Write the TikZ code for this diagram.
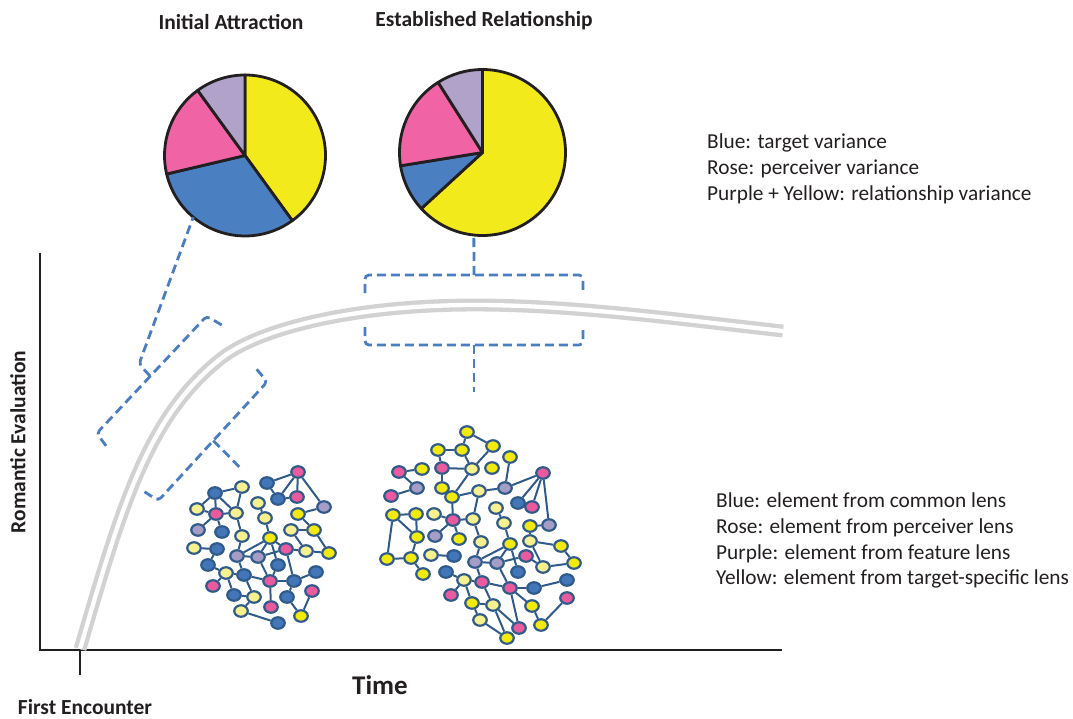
\documentclass[tikz,border=0pt]{standalone}
\usepackage{fontspec}
\setmainfont{Carlito}
\usepackage{tikz}
\usetikzlibrary{shapes.geometric, positioning, backgrounds, calc}
\definecolor{pieyellow}{HTML}{F2EA1A}
\definecolor{pieblue}{HTML}{4A80C1}
\definecolor{pierose}{HTML}{F064A6}
\definecolor{piepurple}{HTML}{B1A2CA}
\definecolor{dashblue}{HTML}{4A7EC0}
\definecolor{curvegray}{HTML}{D2D2D2}
\definecolor{dotline}{HTML}{2F5A8A}
\definecolor{dotB}{HTML}{4276B8}
\definecolor{dotR}{HTML}{EA5A9E}
\definecolor{dotP}{HTML}{A69DC6}
\definecolor{dotY}{HTML}{F2EA0C}
\definecolor{dotL}{HTML}{F6F08E}
\definecolor{inkblack}{HTML}{231F20}

\begin{document}
\begin{tikzpicture}[
      x=1pt, y=-1pt,
      slice/.style={
        draw=inkblack,
        line width=2.8pt,
        line join=round,
      },
      pie/.style={
        circle,
        inner sep=0pt,
        outer sep=0pt,
      },
      brk/.style={
        draw=dashblue,
        line width=2.8pt,
        dash pattern=on 9pt off 5pt,
        rounded corners=4pt,
      },
      dot/.style={
        ellipse,
        draw=dotline,
        line width=2.2pt,
        minimum width=13.5pt,
        minimum height=11.5pt,
        inner sep=0pt,
      },
      link/.style={
        draw=dotline,
        line width=2pt,
      },
      axis/.style={
        draw=inkblack,
        line width=2.8pt,
      },
      title/.style={
        font=\bfseries\fontsize{21.5}{25}\selectfont,
        text=inkblack,
      },
      legend/.style={
        font=\fontsize{21.3}{25.6}\selectfont,
        align=left,
        inner sep=0pt,
        text=inkblack,
      },
      axislabel/.style={
        font=\bfseries\fontsize{21.5}{25}\selectfont,
        text=inkblack,
        inner sep=0pt,
      },
      ]
      \useasboundingbox (0,0) rectangle (1073,719);

      % axes
      \draw[axis] (40,253) |- (782,650);
      \draw[axis] (80,650) -- (80,675);
      \node[axislabel, rotate=90] (ylab) at (18,442) {Romantic Evaluation};
      \node[axislabel] (first) at (85,707) {First Encounter};
      \node[font=\bfseries\fontsize{27}{30}\selectfont, text=inkblack] (time) at (380,685) {Time};

      % evaluation curve
      \draw[curvegray, line width=4.3pt, double=white, double distance=4.3pt]
        (80,649) .. controls (122,505) and (148,415) .. (223,357)
        .. controls (262,328) and (355,305) .. (475,305)
        .. controls (575,305) and (683,320) .. (783,331);

      % pie charts
      \node[title] (titleA) at (231,22) {Initial Attraction};
      \node[title] (titleB) at (484,21) {Established Relationship};
      \node[pie, minimum size=161pt] (pieA) at (245,155.5) {};
      \node[pie, minimum size=166pt] (pieB) at (482.5,152.5) {};
      \filldraw[slice, fill=pieyellow] (pieA.center) -- ++(-90:80.5) arc[start angle=-90, end angle=54, radius=80.5] -- cycle;
      \filldraw[slice, fill=pieblue] (pieA.center) -- ++(54:80.5) arc[start angle=54, end angle=166.7, radius=80.5] -- cycle;
      \filldraw[slice, fill=pierose] (pieA.center) -- ++(166.7:80.5) arc[start angle=166.7, end angle=234, radius=80.5] -- cycle;
      \filldraw[slice, fill=piepurple] (pieA.center) -- ++(234:80.5) arc[start angle=234, end angle=270, radius=80.5] -- cycle;
      \filldraw[slice, fill=pieyellow] (pieB.center) -- ++(-90:83) arc[start angle=-90, end angle=137.5, radius=83] -- cycle;
      \filldraw[slice, fill=pieblue] (pieB.center) -- ++(137.5:83) arc[start angle=137.5, end angle=170.8, radius=83] -- cycle;
      \filldraw[slice, fill=pierose] (pieB.center) -- ++(170.8:83) arc[start angle=170.8, end angle=237.7, radius=83] -- cycle;
      \filldraw[slice, fill=piepurple] (pieB.center) -- ++(237.7:83) arc[start angle=237.7, end angle=270, radius=83] -- cycle;

      % legends
      \node[legend, anchor=north west] (legPie) at (707,134) {Blue: target variance\\Rose: perceiver variance\\Purple + Yellow: relationship variance};
      \node[legend, anchor=north west] (legNet) at (716,493) {Blue: element from common lens\\Rose: element from perceiver lens\\Purple: element from feature lens\\Yellow: element from target-specific lens};

      % brackets
      \coordinate (tipA) at (150,376);
      \coordinate (tipB) at (213.3,440.6);
      \coordinate (endB) at (240.7,468.3);
      \coordinate (tipC) at (474,275);
      \coordinate (tipD) at (474,345);
      \coordinate (endD) at (474,392);
      \draw[brk] (221.7,325) -- (206.7,316) -- (96.7,433.3) -- (106.7,446.7);
      \draw[brk] (tipA) -- (139,364) -- (pieA.230);
      \draw[brk] (256.7,369.3) -- (267.3,381.7) -- (158.3,500.7) -- (143.3,491);
      \draw[brk] (tipB) -- (endB);
      \draw[brk] (365,293) -- (365,275) -- (583,275) -- (583,293);
      \draw[brk] (tipC) -- (pieB.264);
      \draw[brk] (365,327) -- (365,345) -- (583,345) -- (583,327);
      \draw[brk] (tipD) -- (endD);

      % network at first encounter
      \foreach \n/\x/\y/\c in {1/298/472/dotR, 2/267/483/dotB, 3/242/487/dotL, 4/215/493/dotB,
          5/278/499/dotB, 6/297/497/dotR, 7/258/503/dotL, 8/324/507/dotP, 9/197/509/dotL,
          10/216/514/dotR, 11/236/513/dotL, 12/298/514/dotY, 13/265/518/dotL, 14/198/530/dotP,
          15/222/532/dotB, 16/242/536/dotL, 17/291/530/dotL, 18/314/530/dotY, 19/270/538/dotY,
          20/194/548/dotL, 21/217/549/dotB, 22/286/549/dotR, 23/306/551/dotL, 24/329/553/dotY,
          25/237/556/dotP, 26/258/557/dotP, 27/208/565/dotB, 28/278/565/dotB, 29/316/572/dotB,
          30/226/573/dotL, 31/244/575/dotB, 32/270/581/dotR, 33/294/581/dotB, 34/213/586/dotR,
          35/234/595/dotB, 36/254/597/dotL, 37/287/597/dotB, 38/312/591/dotR, 39/271/607/dotR,
          40/241/611/dotL, 41/301/616/dotY, 42/278/623/dotB}
        \node[dot, fill=\c] (a\n) at (\x,\y) {};
      \begin{pgfonlayer}{background}
        \foreach \i/\j in {1/2, 1/5, 1/6, 1/8, 2/5, 5/6, 4/3, 4/9, 4/10, 4/11, 3/11, 9/10,
            10/11, 10/14, 10/15, 11/16, 7/13, 13/19, 8/12, 12/18, 17/18, 17/23, 18/24, 23/24,
            22/23, 16/25, 19/25, 19/26, 19/22, 19/28, 20/21, 21/27, 25/26, 26/22, 27/30,
            30/31, 30/34, 25/31, 26/32, 31/32, 31/36, 35/36, 30/35, 32/33, 32/39, 22/33,
            28/32, 33/29, 33/37, 37/41, 38/41, 36/40, 40/42}
          \draw[link] (a\i) -- (a\j);
      \end{pgfonlayer}

      % network of the established relationship
      \foreach \n/\x/\y/\c in {1/467/432/dotY, 2/438/450/dotY, 3/462/450/dotY, 4/493/446/dotY,
          5/510/457/dotY, 6/399/472/dotR, 7/422/469/dotY, 8/442/468/dotR, 9/472/469/dotL,
          10/492/468/dotY, 11/543/473/dotR, 12/417/488/dotP, 13/442/488/dotY, 14/479/491/dotL,
          15/505/488/dotP, 16/391/496/dotR, 17/452/497/dotY, 18/518/503/dotB, 19/532/507/dotR,
          20/496/508/dotL, 21/393/515/dotY, 22/416/514/dotY, 23/434/514/dotL, 24/453/520/dotR,
          25/473/519/dotL, 26/504/523/dotL, 27/530/526/dotY, 28/549/525/dotP, 29/417/537/dotY,
          30/435/536/dotP, 31/459/539/dotY, 32/481/542/dotL, 33/510/544/dotY, 34/530/541/dotL,
          35/561/546/dotY, 36/387/559/dotY, 37/411/558/dotY, 38/431/555/dotL, 39/454/556/dotB,
          40/475/562/dotP, 41/497/563/dotP, 42/526/556/dotR, 43/543/567/dotL, 44/574/563/dotY,
          45/423/574/dotY, 46/446/572/dotB, 47/518/572/dotB, 48/464/580/dotL, 49/482/582/dotR,
          50/510/588/dotR, 51/534/588/dotB, 52/567/580/dotB, 53/451/595/dotR, 54/472/603/dotY,
          55/493/605/dotL, 56/532/606/dotY, 57/567/598/dotR, 58/480/620/dotL, 59/519/628/dotR,
          60/541/625/dotY, 61/507/638/dotY}
        \node[dot, fill=\c] (b\n) at (\x,\y) {};
      \begin{pgfonlayer}{background}
        \foreach \i/\j in {1/3, 1/4, 2/3, 2/8, 3/9, 4/9, 5/15, 6/7, 6/12, 12/16, 8/9, 8/13,
            13/17, 9/17, 14/15, 14/17, 14/25, 15/11, 11/18, 11/19, 11/28, 17/24, 23/24, 24/25,
            24/30, 24/31, 25/32, 20/26, 26/33, 21/22, 21/36, 22/29, 21/29, 36/37, 37/29, 37/45,
            38/39, 32/40, 33/40, 33/41, 33/47, 40/41, 40/49, 41/42, 41/50, 42/43, 28/27, 27/34,
            34/35, 34/43, 35/44, 43/44, 46/48, 48/49, 48/53, 48/54, 49/50, 49/55, 50/51, 51/52,
            50/56, 50/59, 55/59, 54/55, 54/58, 55/61, 58/61, 56/60, 57/60}
          \draw[link] (b\i) -- (b\j);
      \end{pgfonlayer}
    \end{tikzpicture}
\end{document}
